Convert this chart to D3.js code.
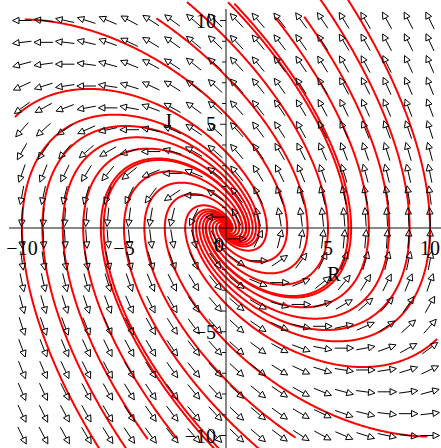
<!DOCTYPE html>
<html><head><meta charset="utf-8">
<script src="https://cdn.jsdelivr.net/npm/d3@7"></script>
<style>html,body{margin:0;padding:0;background:#fff;overflow:hidden}</style>
</head><body>
<svg id="c" width="441" height="448"></svg>
<script>
// Linear system:  R' = a*R + b*J ,  J' = c*R + d*J
const coefR = [0, -1];          // a, b
const coefJ = [1, 1];           // c, d
// Initial conditions (R(0), J(0))
const initR = [-10, -9, -8, -7, -6, -5, -4, -3, -2, -1, 1, 2, 3, 4, 5, 6, 7, 8, 9, 10];
const initJ = [0, 0, 0, 0, 0, 0, 0, 0, 0, 0, 0, 0, 0, 0, 0, 0, 0, 0, 0, 0];
const timeRange = [-8, 8];
const outputStep = 0.1;
const stateRange = [-10, 10];
const arrowGridCount = 20;
const xTickValues = [-10, -5, 5, 10];
const xTickLabels = ["\u221210", "\u22125", "5", "10"];
const yTickValues = [-10, -5, 5, 10];
const yTickLabels = ["\u221210", "\u22125", "5", "10"];
const originLabel = "0";
const axisTitles = ["R", "J"];

const W = 441, H = 448;
const svg = d3.select("#c");
const x = d3.scaleLinear().domain([-10, 10]).range([22, 430]);
const y = d3.scaleLinear().domain([-10, 10]).range([435.5, 20.5]);

function field(R, J) {
  return [coefR[0] * R + coefR[1] * J, coefJ[0] * R + coefJ[1] * J];
}
function rk4(p, h) {
  const k1 = field(p[0], p[1]);
  const k2 = field(p[0] + h / 2 * k1[0], p[1] + h / 2 * k1[1]);
  const k3 = field(p[0] + h / 2 * k2[0], p[1] + h / 2 * k2[1]);
  const k4 = field(p[0] + h * k3[0], p[1] + h * k3[1]);
  return [p[0] + h / 6 * (k1[0] + 2 * k2[0] + 2 * k3[0] + k4[0]),
          p[1] + h / 6 * (k1[1] + 2 * k2[1] + 2 * k3[1] + k4[1])];
}
function outOfRange(p) {
  return p[0] < stateRange[0] || p[0] > stateRange[1] || p[1] < stateRange[0] || p[1] > stateRange[1];
}
function integrate(p0, tEnd, dir) {
  const sub = 20;
  const h = dir * outputStep / sub;
  const pts = [p0];
  let p = p0.slice();
  const nSteps = Math.round(Math.abs(tEnd) / outputStep);
  for (let s = 0; s < nSteps; s++) {
    for (let k = 0; k < sub; k++) { p = rk4(p, h); pts.push(p); }
    if (outOfRange(p)) break;
  }
  return pts;
}

const curves = initR.map((r0, i) => {
  const p0 = [r0, initJ[i]];
  const back = integrate(p0, timeRange[0], -1).reverse();
  const fwd = integrate(p0, timeRange[1], 1);
  return back.concat(fwd.slice(1));
});

svg.append("defs").append("clipPath").attr("id", "clip")
  .append("rect").attr("x", 0).attr("y", 0).attr("width", W).attr("height", H);

// x-axis ticks (under curves)
const intTicks = d3.range(-10, 11);
const gTicks = svg.append("g").attr("stroke", "#000").attr("stroke-width", 1);
gTicks.selectAll("line.xt").data(intTicks.filter(v => v !== 0)).join("line")
  .attr("x1", d => x(d)).attr("x2", d => x(d))
  .attr("y1", y(0)).attr("y2", d => y(0) + (d % 5 === 0 ? 6 : 4));

// trajectories
const line = d3.line().x(d => x(d[0])).y(d => y(d[1])).curve(d3.curveLinear);
svg.append("g").attr("clip-path", "url(#clip)")
  .selectAll("path").data(curves).join("path")
  .attr("d", line).attr("fill", "none").attr("stroke", "#ff0000")
  .attr("stroke-width", 2).attr("stroke-linejoin", "round");

// direction field arrows
const gridVals = d3.range(arrowGridCount).map(i => stateRange[0] + i * (stateRange[1] - stateRange[0]) / (arrowGridCount - 1));
const arrows = [];
gridVals.forEach(R => gridVals.forEach(J => arrows.push([R, J])));
const L = 19, HL = 6.5, HW = 3.2;
const gA = svg.append("g").attr("stroke", "#000").attr("stroke-width", 1).attr("fill", "none");
arrows.forEach(([R, J]) => {
  const v = field(R, J);
  let dx = v[0] * (x(1) - x(0)), dy = v[1] * (y(1) - y(0));
  const n = Math.hypot(dx, dy) || 1;
  dx /= n; dy /= n;
  const cx = x(R), cy = y(J);
  const tx = cx - dx * L / 2, ty = cy - dy * L / 2;
  const hx = cx + dx * L / 2, hy = cy + dy * L / 2;
  const bx = hx - dx * HL, by = hy - dy * HL;
  gA.append("line").attr("x1", tx).attr("y1", ty).attr("x2", bx).attr("y2", by);
  gA.append("path").attr("d", `M${hx},${hy}L${bx - dy * HW},${by + dx * HW}L${bx + dy * HW},${by - dx * HW}Z`);
});

// axes
const gAx = svg.append("g").attr("stroke", "#111").attr("stroke-width", 1);
gAx.append("line").attr("x1", 9).attr("x2", W).attr("y1", y(0)).attr("y2", y(0));
gAx.append("line").attr("x1", x(0)).attr("x2", x(0)).attr("y1", 9).attr("y2", H);
gAx.selectAll("line.yt").data(intTicks.filter(v => v !== 0)).join("line")
  .attr("x1", d => x(0) - (d % 5 === 0 ? 6 : 4)).attr("x2", x(0))
  .attr("y1", d => y(d)).attr("y2", d => y(d));

// labels
const font = "'Liberation Serif','Times New Roman',serif";
const gL = svg.append("g").attr("font-family", font).attr("font-size", 20).attr("fill", "#000");
gL.selectAll("text.xl").data(xTickValues).join("text")
  .attr("x", d => x(d)).attr("y", 255).attr("text-anchor", "middle")
  .text((d, i) => xTickLabels[i]);
gL.selectAll("text.yl").data(yTickValues).join("text")
  .attr("x", 216).attr("y", d => y(d) + 7).attr("text-anchor", "end")
  .text((d, i) => yTickLabels[i]);
gL.append("text").attr("x", 219).attr("y", 252).attr("text-anchor", "middle").text(originLabel);
gL.append("text").attr("x", 334).attr("y", 281).attr("text-anchor", "middle").text(axisTitles[0]);
gL.append("text").attr("x", 168).attr("y", 128).attr("text-anchor", "middle").text(axisTitles[1]);
</script>
</body></html>
